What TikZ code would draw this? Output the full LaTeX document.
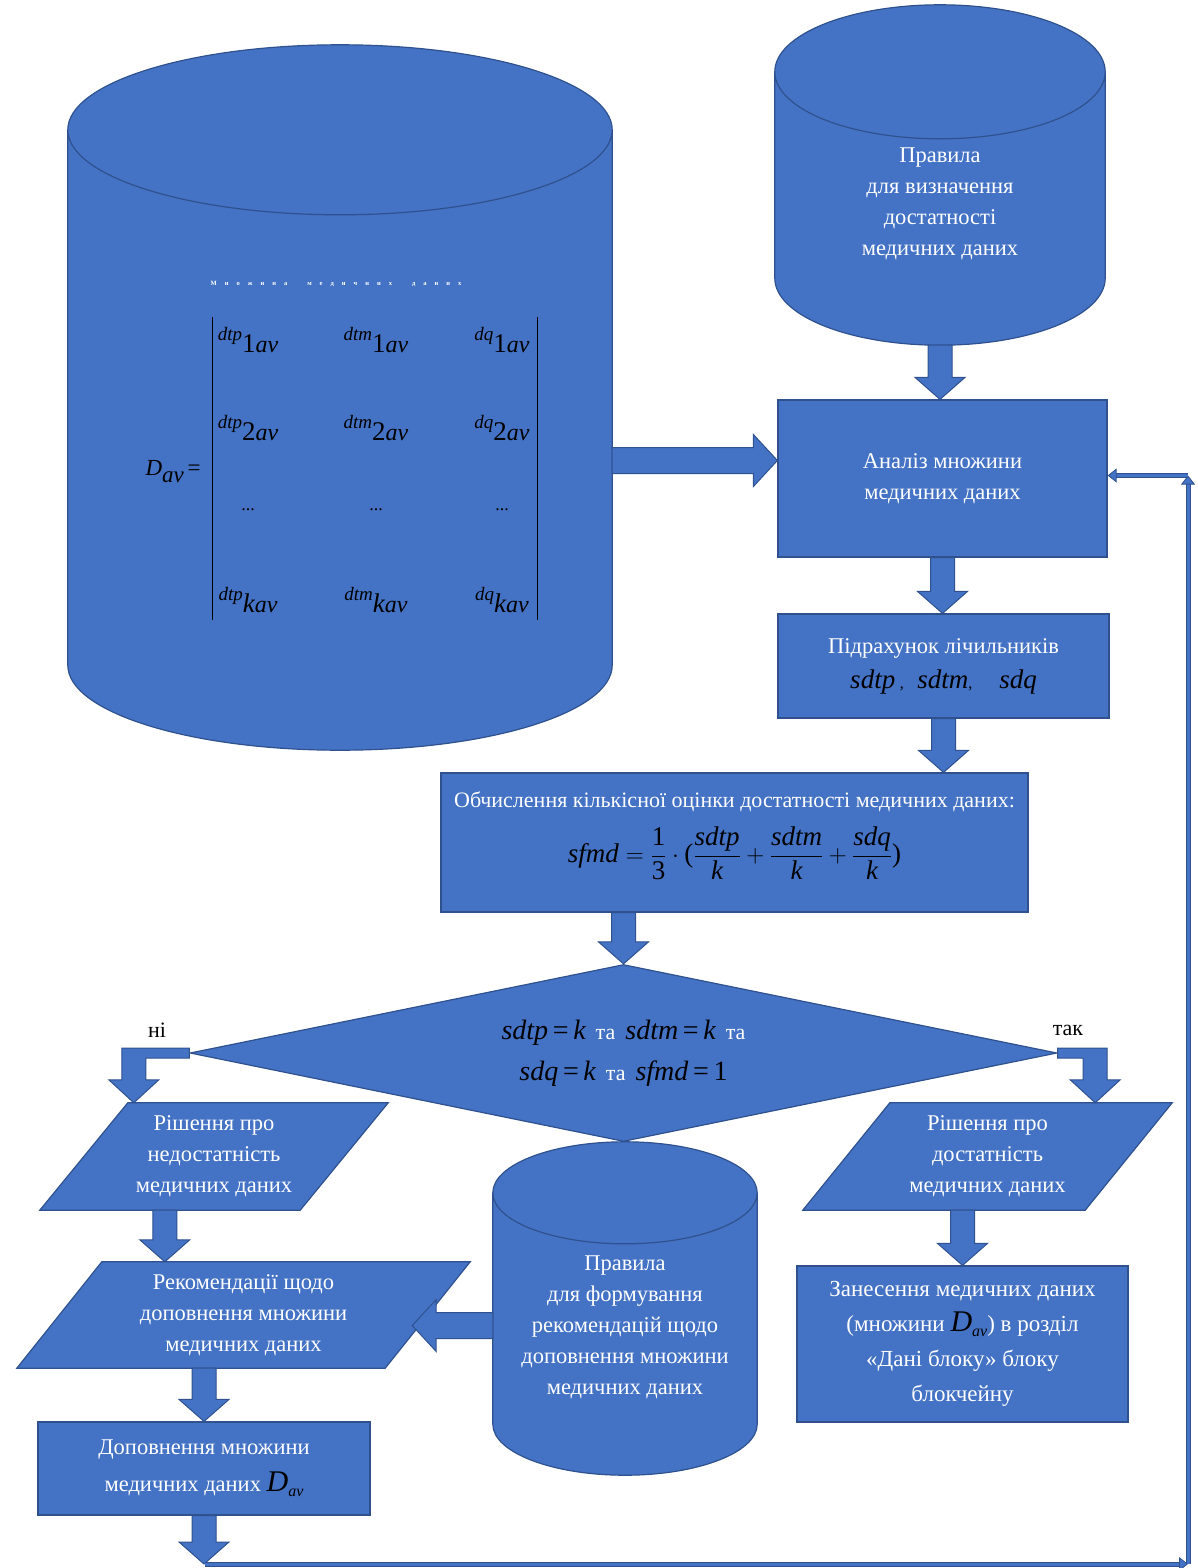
\documentclass[tikz,border=0pt]{standalone}
\usepackage{amsmath}
\usepackage{fontspec}
\setmainfont{Liberation Serif}
\usepackage{tikz}
\usetikzlibrary{positioning,calc,shapes.geometric,arrows.meta,backgrounds}

\definecolor{boxblue}{HTML}{4472C4}
\definecolor{boxedge}{HTML}{2F528F}

\newcommand\boxfont{\fontsize{22.5}{31}\selectfont}
\newcommand\mi[1]{{\itshape\color{black}#1}}
\newcommand\meq{{\color{black}\,=\,}}
\newcommand\tand{{\fontsize{22}{22}\selectfont\hspace{10pt}та\hspace{10pt}}}
\newcommand\Dav{{\fontsize{30}{30}\selectfont\mi{D}}\raisebox{-5pt}{\fontsize{16}{16}\selectfont\mi{av}}}
\newcommand\mcell[2]{\raisebox{12pt}{\fontsize{19}{19}\selectfont\mi{#1}}{\fontsize{27}{27}\selectfont\color{black}#2}{\fontsize{24}{24}\selectfont\mi{av}}}

\tikzset{
  proc/.style={rectangle, draw=boxedge, fill=boxblue, line width=1.2pt,
               text=white, align=center, inner sep=0pt, font=\boxfont},
  para/.style={rectangle, text=white, align=center, inner sep=0pt, font=\boxfont},
  dbbox/.style={rectangle, inner sep=0pt},
  dbfill/.style={draw=boxedge, fill=boxblue, line width=1.2pt},
  dbtxt/.style={text=white, align=center, font=\boxfont},
  dec/.style={diamond, aspect=4.9, draw=boxedge, fill=boxblue, line width=1.2pt,
              text=white, align=center, inner sep=0pt},
  barr/.style={draw=boxedge, fill=boxblue, line width=1pt},
  loopln/.style={draw=boxblue, line width=3pt,
                 -{Triangle[length=9pt,width=14pt,line width=0.8pt,color=boxedge,fill=boxblue]},
                 preaction={draw=boxedge, line width=5pt, arrows=-, shorten >=8pt}},
  lbl/.style={font=\fontsize{22}{22}\selectfont, text=black},
}

% a store drawn over the box of node #1, caps of half height #2
\newcommand\drum[2]{%
  \draw[dbfill] let \p1=(#1.north west), \p2=(#1.south east), \n1={(\x2-\x1)/2} in
    (\x1,{\y1-#2pt}) -- (\x1,{\y2+#2pt})
    arc[start angle=180, end angle=360, x radius={\n1*1pt}, y radius=#2pt]
    -- (\x2,{\y1-#2pt})
    arc[start angle=0, end angle=180, x radius={\n1*1pt}, y radius=#2pt] -- cycle
    (\x1,{\y1-#2pt}) arc[start angle=180, end angle=360, x radius={\n1*1pt}, y radius=#2pt];}
% data block: parallelogram behind node #1, top edge shifted right by #2
\newcommand\slant[2]{%
  \begin{pgfonlayer}{background}
  \draw[dbfill] let \p1=(#1.north west), \p2=(#1.south east) in
    ({\x1+#2pt},\y1) -- (\x2,\y1) -- ({\x2-#2pt},\y2) -- (\x1,\y2) -- cycle;
  \end{pgfonlayer}}

% block arrows drawn from node to node
\newcommand\downarr[2]{%
  \draw[barr] let \p1=(#1), \p2=(#2) in
    ({\x1-12pt},\y1) -- ({\x1-12pt},{\y2+22pt}) -- ({\x1-25pt},{\y2+22pt})
    -- (\x1,\y2) -- ({\x1+25pt},{\y2+22pt}) -- ({\x1+12pt},{\y2+22pt})
    -- ({\x1+12pt},\y1) -- cycle;}
\newcommand\sidearr[3]{%
  \draw[barr] let \p1=(#1), \p2=(#2) in
    (\x1,{\y1+13pt}) -- ({\x2-(#3)*24pt},{\y1+13pt}) -- ({\x2-(#3)*24pt},{\y1+26pt})
    -- (\x2,\y1) -- ({\x2-(#3)*24pt},{\y1-26pt}) -- ({\x2-(#3)*24pt},{\y1-13pt})
    -- (\x1,{\y1-13pt}) -- cycle;}
\newcommand\bentarr[3]{%
  \draw[barr] let \p1=(#1), \p2=(#2) in
    (\x1,{\y1-5pt}) -- (\x1,{\y1+5pt}) -- ({\x2+(#3)*12pt},{\y1+5pt})
    -- ({\x2+(#3)*12pt},{\y2+23pt}) -- ({\x2+(#3)*25pt},{\y2+23pt}) -- (\x2,\y2)
    -- ({\x2-(#3)*25pt},{\y2+23pt}) -- ({\x2-(#3)*12pt},{\y2+23pt})
    -- ({\x2-(#3)*12pt},{\y1-5pt}) -- cycle;}

\begin{document}
\begin{tikzpicture}[x=1pt, y=-1pt]
  \useasboundingbox (0,0) rectangle (1198,1568);

  % stores
  \node[dbbox, minimum width=544pt, minimum height=705pt] (bigdb) at (340,397.5) {};
  \drum{bigdb}{85}
  \node[dbbox, minimum width=330pt, minimum height=340pt] (rulesdb) at (940,175) {};
  \drum{rulesdb}{67}
  \node[dbbox, minimum width=264pt, minimum height=333pt] (recdb) at (625,1308.5) {};
  \drum{recdb}{51}
  \node[dbtxt] (rulestxt) at (940,204) {Правила\\для визначення\\достатності\\медичних даних};
  \node[dbtxt] (rectxt) at (625,1327) {Правила\\для формування\\рекомендацій щодо\\доповнення множини\\медичних даних};

  % the data set D_av
  \node[text=white, font=\fontsize{6.5}{7}\selectfont\bfseries] (settitle) at (336,284)
    {\spaceskip=8pt М н о ж и н а\hspace{12pt} м е д и ч н и х\hspace{12pt} д а н и х};
  \node[anchor=base west, font=\fontsize{23}{23}\selectfont] (dav) at (142,475)
    {\mi{D}\raisebox{-7pt}{\mi{av}}\,{\color{black}=}};
  \foreach \nm/\vx in {dtp/248, dtm/376, dq/502}{
    \node[anchor=base] (\nm1) at (\vx,352) {\mcell{\nm}{1}};
    \node[anchor=base] (\nm2) at (\vx,440) {\mcell{\nm}{2}};
    \node[font=\fontsize{18}{18}\selectfont] (\nm3) at (\vx,510) {...};
    \node[anchor=base] (\nm4) at (\vx,612) {\mcell{\nm}{\itshape k}};
  }
  \draw[line width=1pt] (212,317) -- (212,620) (537,317) -- (537,620);

  % processing steps
  \node[proc, minimum width=329pt, minimum height=157pt] (anal) at (942.5,478.5)
    {Аналіз множини\\медичних даних};
  \node[proc, minimum width=331pt, minimum height=104pt, font=\fontsize{22.5}{35}\selectfont] (count) at (943.5,666)
    {Підрахунок лічильників\\{\fontsize{27}{27}\selectfont\mi{sdtp}\,{\fontsize{16}{16}\selectfont\color{black},}\enspace\mi{sdtm}{\fontsize{16}{16}\selectfont\color{black},}\quad\mi{sdq}}};
  \node[proc, minimum width=587pt, minimum height=139pt, font=\fontsize{22}{36}\selectfont] (calc) at (734.5,842.5)
    {Обчислення кількісної оцінки достатності медичних даних:\\[14pt]
     {\fontsize{27}{30}\selectfont\color{black}$\mbox{\mi{sfmd}}=\dfrac{\mbox{1}}{\mbox{3}}\cdot\mbox{(}\dfrac{\mbox{\mi{sdtp}}}{\mbox{\mi{k}}}+\dfrac{\mbox{\mi{sdtm}}}{\mbox{\mi{k}}}+\dfrac{\mbox{\mi{sdq}}}{\mbox{\mi{k}}}\mbox{)}$}\\[-6pt]};
  \node[dec, minimum width=867pt, minimum height=177pt, font=\fontsize{28}{41}\selectfont] (check) at (623.5,1053)
    {\mi{sdtp}\meq\mi{k}\tand\mi{sdtm}\meq\mi{k}\tand\\\mi{sdq}\meq\mi{k}\tand\mi{sfmd}\meq{\color{black}1}};
  \node[lbl] (nolbl) at (157,1030) {ні};
  \node[lbl] (yeslbl) at (1068,1030) {так};

  % left branch
  \node[para, minimum width=348pt, minimum height=107pt] (nosuff) at (214,1156.5)
    {Рішення про\\недостатність\\медичних даних};
  \slant{nosuff}{88}
  \node[para, minimum width=453pt, minimum height=106pt] (rec) at (243.5,1315)
    {Рекомендації щодо\\доповнення множини\\медичних даних};
  \slant{rec}{85}
  \node[proc, minimum width=332pt, minimum height=93pt, font=\fontsize{22.5}{37}\selectfont] (dop) at (204,1468.5)
    {Доповнення множини\\медичних даних \Dav};

  % right branch
  \node[para, minimum width=369pt, minimum height=107pt] (suff) at (987.5,1156.5)
    {Рішення про\\достатність\\медичних даних};
  \slant{suff}{87}
  \node[proc, minimum width=331pt, minimum height=156pt, font=\fontsize{23}{35}\selectfont] (put) at (962.5,1344)
    {Занесення медичних даних\\(множини \Dav) в розділ\\«Дані блоку» блоку\\блокчейну};

  % connectors
  \downarr{rulesdb.south}{anal.north}
  \sidearr{[yshift=-63pt]bigdb.east}{anal.west}{1}
  \downarr{anal.south}{count.north}
  \downarr{count.south}{calc.north}
  \downarr{calc.south -| check.north}{check.north}
  \bentarr{check.west}{[xshift=94pt]nosuff.north west}{-1}
  \bentarr{check.east}{[xshift=-77pt]suff.north east}{1}
  \downarr{[xshift=125pt]nosuff.south west}{rec.north}
  \sidearr{[yshift=-17pt]recdb.west}{[xshift=-58pt]rec.east}{-1}
  \downarr{rec.south -| dop.north}{dop.north}
  \downarr{suff.south -| put.north}{put.north}

  % feedback loop
  \coordinate (lp0) at (205,1564);
  \coordinate (lpA) at (1188,1564);
  \coordinate (lpB) at (1188,475.5);
  \downarr{dop.south}{lp0}
  \draw[loopln] (lp0) -- (lpA);
  \draw[loopln] (lpA) -- (lpB);
  \draw[loopln] (lpB) -- (anal.east |- lpB);
\end{tikzpicture}
\end{document}
